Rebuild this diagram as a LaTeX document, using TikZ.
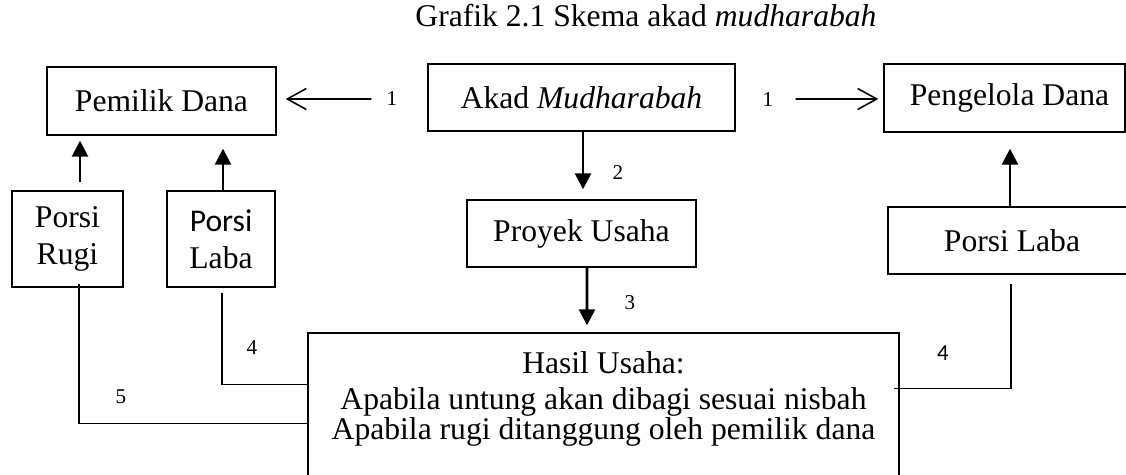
\documentclass[tikz,border=0pt]{standalone}
\usepackage{fontspec}
\setmainfont{Liberation Serif}
\newfontfamily\calibri{Carlito}
\usepackage{tikz}
\usetikzlibrary{arrows.meta}
\usetikzlibrary{calc}
\tikzset{
box/.style={
  draw,
  line width=0.8pt,
  inner sep=0pt,
  align=center,
  font=\fontsize{18}{21}\selectfont
},
num/.style={inner sep=0pt,font=\fontsize{12}{14}\selectfont},
tri/.style={line width=1.5pt,-{Triangle[length=0.32cm,width=0.32cm]}},
barb/.style={line width=0.9pt,-{Straight Barb[length=0.38cm,width=0.42cm]}},
link/.style={line width=0.6pt},
}

\begin{document}
\begin{tikzpicture}[x=0.02cm,y=-0.02cm]
\useasboundingbox (0,0) rectangle (1126,475);
\clip (0,0) rectangle (1126,475);
\node[anchor=base,font=\fontsize{18}{21}\selectfont] (judul) at (646,27) {Grafik 2.1 Skema akad \textit{mudharabah}};
% the boxes
\node[box,minimum width=4.58cm,minimum height=1.36cm] (pemilik) at (161.5,101) {Pemilik Dana};
\node[box,minimum width=6.14cm,minimum height=1.34cm] (akad) at (581.5,97.5) {Akad \textit{Mudharabah}};
\node[box,minimum width=4.82cm,minimum height=1.36cm] (pengelola) at (1004.5,98) {\hspace*{0.2cm}Pengelola Dana};
\node[box,minimum width=2.22cm,minimum height=1.92cm] (porsirugi) at (67.5,239) {Porsi\\Rugi};
\node[box,minimum width=2.16cm,minimum height=1.92cm] (porsilabaL) at (221,239) {{\calibri Porsi}\\Laba};
\node[box,minimum width=4.58cm,minimum height=1.34cm] (proyek) at (581.5,233.5) {Proyek Usaha};
\node[box,minimum width=4.96cm,minimum height=1.34cm] (porsilabaR) at (1012,240.5) {Porsi Laba};
\node[box,minimum width=11.82cm,minimum height=3.34cm] (hasil) at (603.5,416.5) {};
\node[anchor=north,inner sep=0pt,align=center,font=\fontsize{18}{17}\selectfont] (hasiltext)
  at ($(hasil.north)+(0,19)$)
  {Hasil Usaha:\\[3.5pt]Apabila untung akan dibagi sesuai nisbah\\Apabila rugi ditanggung oleh pemilik dana};
% the arrows
\draw[barb] ($(akad.west)+(-56,1.5)$) -- ($(pemilik.east)+(9,-2)$);
\draw[barb] ($(akad.east)+(60,1.5)$) -- ($(pengelola.west)+(-5,1)$);
\draw[tri] ($(akad.south)+(1.5,0)$) -- ($(proyek.north)+(1.5,-10)$);
\draw[tri] ($(proyek.south)+(5.5,0)$) -- ($(hasil.north)+(-16.5,-7)$);
\draw[tri] ($(porsirugi.north)+(12.5,-8)$) -- ($(porsirugi.north |- pemilik.south)+(12.5,5)$);
\draw[tri] ($(porsilabaL.north)+(2,0)$) -- ($(porsilabaL.north |- pemilik.south)+(2,13)$);
\draw[tri] ($(porsilabaR.north)+(-2,0)$) -- ($(porsilabaR.north |- pengelola.south)+(-2,16)$);
% the return lines
\draw[link] ($(porsilabaL.south)+(1,5)$) |- ($(hasil.north west)+(0,52)$);
\draw[link] ($(porsirugi.south)+(11.5,-4)$) |- ($(hasil.north west)+(0,91)$);
\draw[link] ($(porsilabaR.south)+(-1,9)$) |- ($(hasil.north east)+(-6,56)$);
% the step numbers
\node[num] (n1a) at (392,99) {1};
\node[num] (n1b) at (768,100) {1};
\node[num] (n2) at (618,173) {2};
\node[num] (n3) at (630,303) {3};
\node[num] (n4a) at (252,348) {4};
\node[num] (n5) at (121,397) {5};
\node[num,font=\calibri\fontsize{13}{15}\selectfont] (n4b) at (943,353) {4};
\end{tikzpicture}
\end{document}
